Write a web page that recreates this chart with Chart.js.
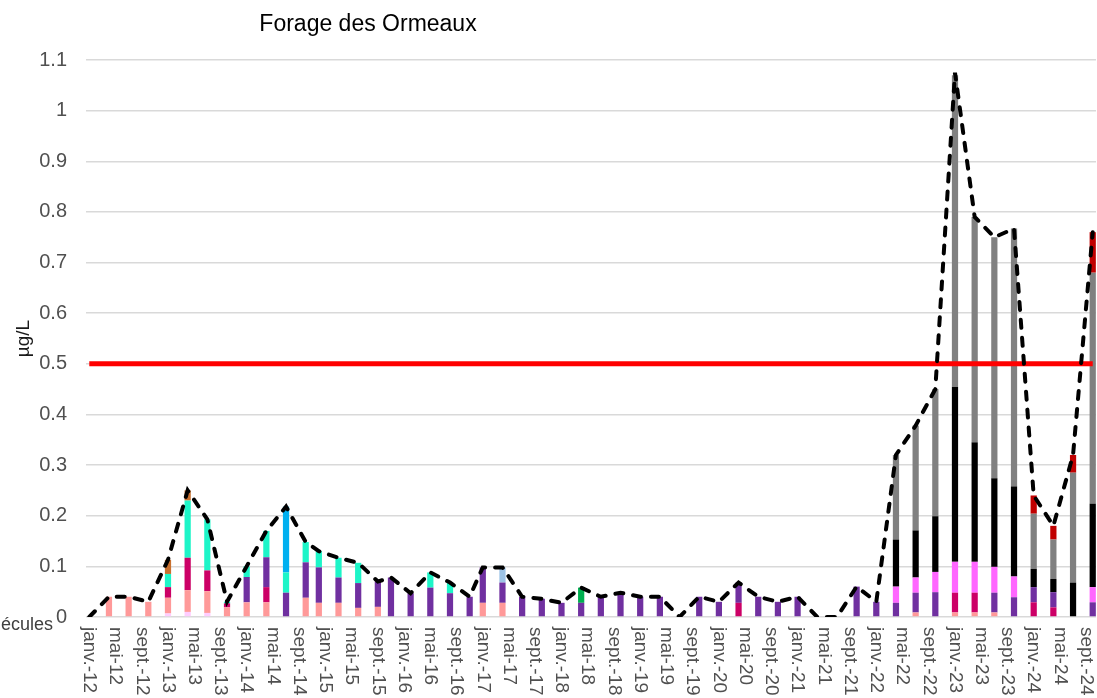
<!DOCTYPE html>
<html lang="fr">
<head>
<meta charset="utf-8">
<title>Forage des Ormeaux</title>
<script src="https://cdn.jsdelivr.net/npm/chart.js@4.4.1/dist/chart.umd.min.js"></script>
<style>
  html, body { margin: 0; padding: 0; background: #fff; }
  #wrap { position: relative; width: 1097px; height: 698px; }
</style>
</head>
<body>
<div id="wrap"><canvas id="chart"></canvas></div>
<script>
const FONT = "'Liberation Sans', Arial, sans-serif";

// month axis (one category per month, label every 4 months)
const monthNames = ['janv.', 'févr.', 'mars', 'avr.', 'mai', 'juin', 'juil.', 'août', 'sept.', 'oct.', 'nov.', 'déc.'];
const years = [12, 13, 14, 15, 16, 17, 18, 19, 20, 21, 22, 23, 24];
const lastMonth = 'oct.-24';

// sampling dates
const sampleDates = [
  'janv.-12', 'avr.-12', 'juil.-12', 'oct.-12',
  'janv.-13', 'avr.-13', 'juil.-13', 'oct.-13',
  'janv.-14', 'avr.-14', 'juil.-14', 'oct.-14', 'déc.-14',
  'mars-15', 'juin-15', 'sept.-15', 'nov.-15',
  'févr.-16', 'mai-16', 'août-16', 'nov.-16',
  'janv.-17', 'avr.-17', 'juil.-17', 'oct.-17',
  'janv.-18', 'avr.-18', 'juil.-18', 'oct.-18',
  'janv.-19', 'avr.-19', 'juil.-19', 'oct.-19',
  'janv.-20', 'avr.-20', 'juil.-20', 'oct.-20',
  'janv.-21', 'avr.-21', 'juil.-21', 'oct.-21',
  'janv.-22', 'avr.-22', 'juil.-22', 'oct.-22',
  'janv.-23', 'avr.-23', 'juil.-23', 'oct.-23',
  'janv.-24', 'avr.-24', 'juil.-24', 'oct.-24'
];

// concentrations (µg/L) per molecule, one value per sampling date (grouped by year 2012..2024)
const molA = [0, 0, 0, 0,  .007, .01, .008, 0,  0, 0, 0, 0, 0,  0, 0, 0, 0,  0, 0, 0, 0,  0, 0, 0, 0,  0, 0, 0, 0,  0, 0, 0, 0,  0, 0, 0, 0,  0, 0, 0, 0,  0, 0, 0, 0,  0, 0, 0, 0,  0, 0, 0, 0];
const molB = [0, .04, .04, .03,  .031, .043, .043, .019,  .029, .029, 0, .038, .028,  .028, .018, .02, 0,  0, 0, 0, 0,  .028, .028, 0, 0,  0, 0, 0, 0,  0, 0, 0, 0,  0, 0, 0, 0,  0, 0, 0, 0,  0, 0, .009, 0,  .009, .009, .009, 0,  0, 0, 0, 0];
const molC = [0, 0, 0, 0,  .021, .064, .041, .008,  0, .03, 0, 0, 0,  0, 0, 0, 0,  0, 0, 0, 0,  0, 0, 0, 0,  0, 0, 0, 0,  0, 0, 0, 0,  0, .028, 0, 0,  0, 0, 0, 0,  0, 0, 0, 0,  .039, .039, 0, 0,  .029, .019, 0, 0];
const molD = [0, 0, 0, 0,  0, 0, 0, 0,  .05, .059, .048, .07, .07,  .05, .049, .05, .078,  .047, .058, .047, .04,  .07, .04, .04, .036,  .028, .028, .04, .048,  .04, .04, 0, .04,  .03, .04, .04, .03,  .04, 0, 0, .06,  .03, .028, .039, .049,  0, 0, .039, .039,  .03, .03, 0, .029];
const molE = [0, 0, 0, 0,  0, 0, 0, 0,  0, 0, 0, 0, 0,  0, 0, 0, 0,  0, 0, 0, 0,  0, 0, 0, 0,  0, 0, 0, 0,  0, 0, 0, 0,  0, 0, 0, 0,  0, 0, 0, 0,  0, .032, .03, .04,  .061, .061, .051, .041,  0, 0, 0, .03];
const molF = [0, 0, 0, 0,  0, 0, 0, 0,  0, 0, 0, 0, 0,  0, 0, 0, 0,  0, 0, 0, 0,  0, 0, 0, 0,  0, 0, 0, 0,  0, 0, 0, 0,  0, 0, 0, 0,  0, 0, 0, 0,  0, .093, .093, .11,  .345, .236, .175, .178,  .036, .026, .068, .165];
const molG = [0, 0, 0, 0,  0, 0, 0, 0,  0, 0, 0, 0, 0,  0, 0, 0, 0,  0, 0, 0, 0,  0, 0, 0, 0,  0, 0, 0, 0,  0, 0, 0, 0,  0, 0, 0, 0,  0, 0, 0, 0,  0, .167, .207, .251,  .616, .445, .476, .509,  .109, .078, .217, .456];
const molH = [0, 0, 0, 0,  0, 0, 0, 0,  0, 0, 0, 0, 0,  0, 0, 0, 0,  0, 0, 0, 0,  0, 0, 0, 0,  0, 0, 0, 0,  0, 0, 0, 0,  0, 0, 0, 0,  0, 0, 0, 0,  0, 0, 0, 0,  0, 0, 0, 0,  .036, .027, .035, .08];
const molI = [0, 0, 0, 0,  .026, .113, .101, .003,  .021, .052, .04, .04, .032,  .039, .04, 0, 0,  0, .03, .021, 0,  0, 0, 0, 0,  0, 0, 0, 0,  0, 0, 0, 0,  0, 0, 0, 0,  0, 0, 0, 0,  0, 0, 0, 0,  0, 0, 0, 0,  0, 0, 0, 0];
const molJ = [0, 0, 0, 0,  .028, .02, 0, 0,  0, 0, 0, 0, 0,  0, 0, 0, 0,  0, 0, 0, 0,  0, 0, 0, 0,  0, 0, 0, 0,  0, 0, 0, 0,  0, 0, 0, 0,  0, 0, 0, 0,  0, 0, 0, 0,  0, 0, 0, 0,  0, 0, 0, 0];
const molK = [0, 0, 0, 0,  0, 0, 0, 0,  0, 0, .13, 0, 0,  0, 0, 0, 0,  0, 0, 0, 0,  0, 0, 0, 0,  0, 0, 0, 0,  0, 0, 0, 0,  0, 0, 0, 0,  0, 0, 0, 0,  0, 0, 0, 0,  0, 0, 0, 0,  0, 0, 0, 0];
const molL = [0, 0, 0, 0,  0, 0, 0, 0,  0, 0, 0, 0, 0,  0, 0, 0, 0,  0, 0, 0, 0,  0, .03, 0, 0,  0, 0, 0, 0,  0, 0, 0, 0,  0, 0, 0, 0,  0, 0, 0, 0,  0, 0, 0, 0,  0, 0, 0, 0,  0, 0, 0, 0];
const molM = [0, 0, 0, 0,  0, 0, 0, 0,  0, 0, 0, 0, 0,  0, 0, 0, 0,  0, 0, 0, 0,  0, 0, 0, 0,  0, .03, 0, 0,  0, 0, 0, 0,  0, 0, 0, 0,  0, 0, 0, 0,  0, 0, 0, 0,  0, 0, 0, 0,  0, 0, 0, 0];

// sum of molecules (dashed line)
const totals = [0, .04, .04, .03,  .113, .25, .193, .03,  .1, .17, .218, .148, .13,  .117, .107, .07, .078,  .047, .088, .068, .04,  .098, .098, .04, .036,  .028, .058, .04, .048,  .04, .04, 0, .04,  .03, .068, .04, .03,  .04, 0, 0, .06,  .03, .32, .378, .45,  1.075, .79, .75, .767,  .24, .18, .32, .76];

const limit = 0.5;

// build monthly categories
const months = [];
for (const y of years) {
  for (const m of monthNames) {
    if (months[months.length - 1] === lastMonth) break;
    months.push(m + '-' + y);
  }
}
const sampleIdx = sampleDates.map((d) => months.indexOf(d));

function toMonthly(values, keepZero) {
  const out = months.map(() => null);
  sampleIdx.forEach((k, j) => {
    if (keepZero || values[j]) out[k] = values[j];
  });
  return out;
}

const molecules = [
  { label: 'Molécule A', color: '#FFCCFF', values: molA },
  { label: 'Molécule B', color: '#FF9999', values: molB },
  { label: 'Molécule C', color: '#CC0066', values: molC },
  { label: 'Molécule D', color: '#7030A0', values: molD },
  { label: 'Molécule E', color: '#FF66FF', values: molE },
  { label: 'Molécule F', color: '#000000', values: molF },
  { label: 'Molécule G', color: '#808080', values: molG },
  { label: 'Molécule H', color: '#C00000', values: molH },
  { label: 'Molécule I', color: '#1DF5C8', values: molI },
  { label: 'Molécule J', color: '#C8702F', values: molJ },
  { label: 'Molécule K', color: '#00B0F0', values: molK },
  { label: 'Molécule L', color: '#9DC3E6', values: molL },
  { label: 'Molécule M', color: '#00B050', values: molM },
];

const datasets = [
  {
    type: 'line',
    label: 'Somme des molécules',
    data: toMonthly(totals, true),
    borderColor: '#000',
    borderWidth: 4,
    borderDash: [8, 10],
    borderCapStyle: 'round',
    pointRadius: 0,
    tension: 0,
    spanGaps: true,
    stack: 'total',
    order: 0,
  },
  {
    type: 'line',
    label: 'Limite',
    data: months.map(() => limit),
    borderColor: '#FF0000',
    borderWidth: 5,
    pointRadius: 0,
    stack: 'limit',
    order: 1,
  },
  ...molecules.map((m) => ({
    type: 'bar',
    label: m.label,
    data: toMonthly(m.values, false),
    backgroundColor: m.color,
    borderWidth: 0,
    categoryPercentage: 1,
    barPercentage: 0.95,
    stack: 'mol',
    order: 2,
  })),
];

// title, cut label and rotated month labels
const extraText = {
  id: 'extraText',
  afterDraw(chart) {
    const ctx = chart.ctx;
    const xs = chart.scales.x;
    ctx.save();
    ctx.fillStyle = '#000';
    ctx.font = '23px ' + FONT;
    ctx.textAlign = 'center';
    ctx.textBaseline = 'middle';
    ctx.fillText('Forage des Ormeaux', 368, 25);

    ctx.fillStyle = '#404040';
    ctx.font = '18px ' + FONT;
    ctx.textAlign = 'right';
    ctx.textBaseline = 'alphabetic';
    ctx.fillText('écules', 53, 630);

    ctx.fillStyle = '#505050';
    ctx.font = '19px ' + FONT;
    ctx.textAlign = 'left';
    ctx.textBaseline = 'middle';
    months.forEach((lbl, i) => {
      if (i % 4 !== 0) return;
      ctx.save();
      ctx.translate(xs.getPixelForValue(i), chart.chartArea.bottom + 10);
      ctx.rotate(Math.PI / 2);
      ctx.fillText(lbl, 0, 0);
      ctx.restore();
    });
    ctx.restore();
  },
};

new Chart(document.getElementById('chart'), {
  type: 'bar',
  data: { labels: months, datasets },
  plugins: [extraText],
  options: {
    responsive: true,
    maintainAspectRatio: false,
    animation: false,
    layout: { padding: { top: 60, right: 1, left: 0, bottom: 0 } },
    plugins: { legend: { display: false }, tooltip: { enabled: false } },
    scales: {
      x: {
        stacked: true,
        grid: { display: false },
        border: { display: false },
        ticks: { display: false },
        afterFit: (s) => { s.height = 81; },
      },
      y: {
        stacked: true,
        min: 0,
        max: 1.1,
        ticks: {
          stepSize: 0.1,
          color: '#505050',
          padding: 19,
          font: { family: FONT, size: 20 },
          callback: (v) => String(Number(v.toFixed(1))),
        },
        grid: { color: '#D9D9D9', lineWidth: 1.5, drawTicks: false },
        border: { display: false },
        title: { display: true, text: 'µg/L', color: '#1a1a1a', font: { family: FONT, size: 19 }, padding: { top: 12 } },
        afterFit: (s) => { s.width = 86; },
      },
    },
  },
});
</script>
</body>
</html>
